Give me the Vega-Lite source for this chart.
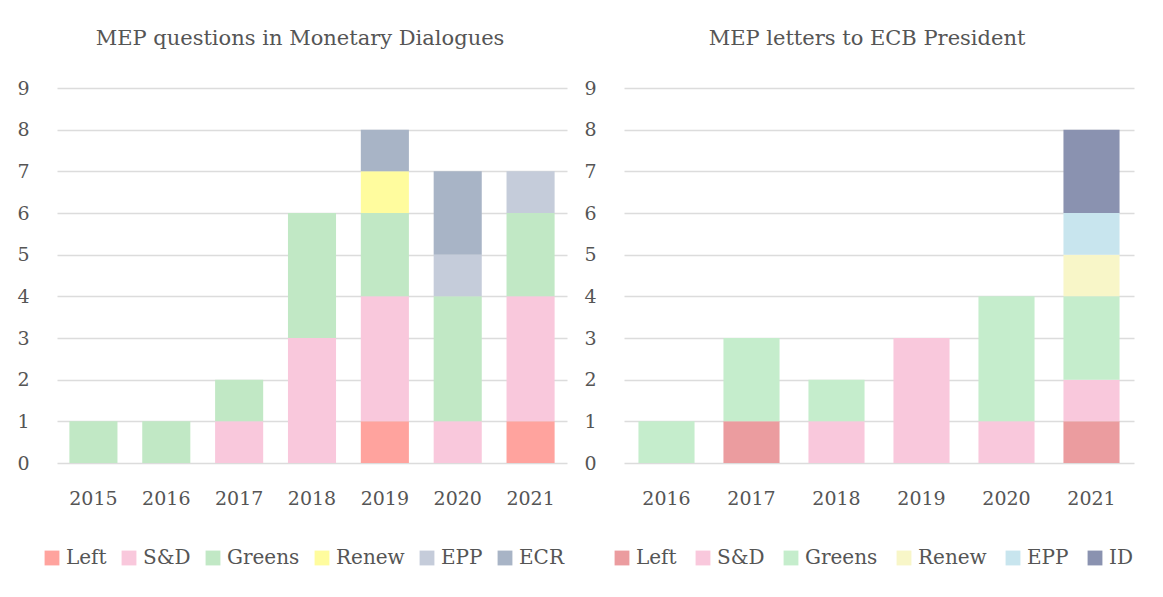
{
  "$schema": "https://vega.github.io/schema/vega-lite/v6.json",
  "background": "white",
  "padding": {"left": 16, "top": 28, "right": 10, "bottom": 5},
  "spacing": 16,
  "config": {
    "font": "DejaVu Serif",
    "view": {"stroke": null},
    "title": {"fontSize": 21, "fontWeight": "normal", "color": "#555", "offset": 30, "dx": -12},
    "axis": {"labelFont": "DejaVu Serif", "labelColor": "#555", "labelFontSize": 19, "ticks": false, "domain": false, "title": null, "labelOverlap": false},
    "legend": {"labelFont": "DejaVu Serif", "labelColor": "#555", "labelFontSize": 20, "symbolType": "square", "symbolSize": 220, "symbolStrokeWidth": 0, "orient": "none", "direction": "horizontal", "title": null, "columnPadding": 14, "symbolOffset": 0}
  },
  "datasets": {
    "md": [
      {"year": "2015", "party": "Greens", "k": 3, "n": 1},
      {"year": "2016", "party": "Greens", "k": 3, "n": 1},
      {"year": "2017", "party": "S&D", "k": 2, "n": 1},
      {"year": "2017", "party": "Greens", "k": 3, "n": 1},
      {"year": "2018", "party": "S&D", "k": 2, "n": 3},
      {"year": "2018", "party": "Greens", "k": 3, "n": 3},
      {"year": "2019", "party": "Left", "k": 1, "n": 1},
      {"year": "2019", "party": "S&D", "k": 2, "n": 3},
      {"year": "2019", "party": "Greens", "k": 3, "n": 2},
      {"year": "2019", "party": "Renew", "k": 4, "n": 1},
      {"year": "2019", "party": "ECR", "k": 6, "n": 1},
      {"year": "2020", "party": "S&D", "k": 2, "n": 1},
      {"year": "2020", "party": "Greens", "k": 3, "n": 3},
      {"year": "2020", "party": "EPP", "k": 5, "n": 1},
      {"year": "2020", "party": "ECR", "k": 6, "n": 2},
      {"year": "2021", "party": "Left", "k": 1, "n": 1},
      {"year": "2021", "party": "S&D", "k": 2, "n": 3},
      {"year": "2021", "party": "Greens", "k": 3, "n": 2},
      {"year": "2021", "party": "EPP", "k": 5, "n": 1}
    ],
    "letters": [
      {"year": "2016", "party": "Greens", "k": 3, "n": 1},
      {"year": "2017", "party": "Left", "k": 1, "n": 1},
      {"year": "2017", "party": "Greens", "k": 3, "n": 2},
      {"year": "2018", "party": "S&D", "k": 2, "n": 1},
      {"year": "2018", "party": "Greens", "k": 3, "n": 1},
      {"year": "2019", "party": "S&D", "k": 2, "n": 3},
      {"year": "2020", "party": "S&D", "k": 2, "n": 1},
      {"year": "2020", "party": "Greens", "k": 3, "n": 3},
      {"year": "2021", "party": "Left", "k": 1, "n": 1},
      {"year": "2021", "party": "S&D", "k": 2, "n": 1},
      {"year": "2021", "party": "Greens", "k": 3, "n": 2},
      {"year": "2021", "party": "Renew", "k": 4, "n": 1},
      {"year": "2021", "party": "EPP", "k": 5, "n": 1},
      {"year": "2021", "party": "ID", "k": 6, "n": 2}
    ]
  },
  "resolve": {"scale": {"color": "independent"}, "legend": {"color": "independent"}},
  "hconcat": [
    {
      "title": "MEP questions in Monetary Dialogues",
      "width": 510,
      "height": 375,
      "data": {"name": "md"},
      "mark": {"type": "bar"},
      "encoding": {
        "x": {"field": "year", "type": "nominal", "scale": {"paddingInner": 0.34, "paddingOuter": 0.17}, "axis": {"labelAngle": 0, "labelPadding": 26, "grid": false}},
        "y": {"field": "n", "type": "quantitative", "aggregate": "sum", "stack": "zero", "scale": {"domain": [0, 9], "nice": false}, "axis": {"values": [0,1,2,3,4,5,6,7,8,9], "labelPadding": 28, "gridColor": "#dcdcdc", "gridWidth": 1.5}},
        "order": {"field": "k", "type": "quantitative", "sort": "ascending"},
        "color": {"field": "party", "type": "nominal", "sort": ["Left", "S&D", "Greens", "Renew", "EPP", "ECR"], "scale": {"domain": ["Left", "S&D", "Greens", "Renew", "EPP", "ECR"], "range": ["#ffa39e", "#f9c8dc", "#c1e8c5", "#fffc9e", "#c5ccda", "#a8b4c6"]}, "legend": {"legendX": -15, "legendY": 460, "columnPadding": 12}}
      }
    },
    {
      "title": "MEP letters to ECB President",
      "width": 510,
      "height": 375,
      "data": {"name": "letters"},
      "mark": {"type": "bar"},
      "encoding": {
        "x": {"field": "year", "type": "nominal", "scale": {"paddingInner": 0.34, "paddingOuter": 0.17}, "axis": {"labelAngle": 0, "labelPadding": 26, "grid": false}},
        "y": {"field": "n", "type": "quantitative", "aggregate": "sum", "stack": "zero", "scale": {"domain": [0, 9], "nice": false}, "axis": {"values": [0,1,2,3,4,5,6,7,8,9], "labelPadding": 28, "gridColor": "#dcdcdc", "gridWidth": 1.5}},
        "order": {"field": "k", "type": "quantitative", "sort": "ascending"},
        "color": {"field": "party", "type": "nominal", "sort": ["Left", "S&D", "Greens", "Renew", "EPP", "ID"], "scale": {"domain": ["Left", "S&D", "Greens", "Renew", "EPP", "ID"], "range": ["#eb9c9f", "#f9c8dc", "#c5edcc", "#f8f6c8", "#c8e5ee", "#8a92b0"]}, "legend": {"legendX": -12, "legendY": 460, "columnPadding": 16}}
      }
    }
  ]
}
